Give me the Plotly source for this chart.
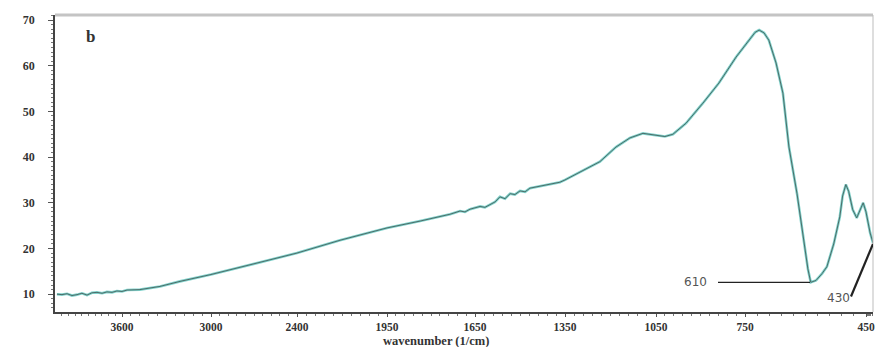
import numpy as np
import plotly.graph_objects as go

# ---- data ----
wavenumber = [4037, 4003, 3969, 3936, 3902, 3869, 3835, 3802, 3768, 3734, 3701, 3667, 3634, 3600, 3566,
              3479, 3344, 3209, 3000, 2728, 2400, 2185, 1950, 1837, 1735,
              1701, 1684, 1667, 1650, 1633, 1617, 1600, 1583, 1567, 1550, 1533, 1517, 1500, 1483, 1467,
              1433, 1400, 1367, 1350, 1235, 1182, 1136, 1093, 1053, 1020, 993, 949, 892, 838, 780,
              740, 725, 715, 703, 691, 673, 656, 641, 621, 606, 594, 587, 574, 559, 547, 530, 515,
              508, 500, 493, 483, 473, 465, 457, 450, 440, 433]
transmittance = [10.0, 9.9, 10.1, 9.7, 9.9, 10.2, 9.8, 10.3, 10.4, 10.2, 10.5, 10.4, 10.7, 10.6, 10.9,
                 11.0, 11.7, 12.8, 14.3, 16.5, 19.0, 21.8, 24.5, 26.0, 27.5,
                 28.2, 28.0, 28.6, 28.9, 29.2, 29.0, 29.6, 30.2, 31.3, 30.9, 32.0, 31.8, 32.6, 32.4, 33.2,
                 33.6, 34.0, 34.5, 35.0, 39.0, 42.2, 44.2, 45.2, 44.9, 44.5, 45.0, 47.4, 51.8, 56.2, 61.9,
                 65.6, 67.3, 67.8, 67.2, 65.6, 60.6, 54.0, 42.2, 32.0, 22.5, 15.5, 12.6, 13.0, 14.5, 16.0, 21.0, 26.9,
                 31.5, 34.0, 32.5, 28.5, 26.7, 28.5, 30.0, 28.0, 23.4, 21.2]

tick_labels = ["3600", "3000", "2400", "1950", "1650", "1350", "1050", "750", "450"]
tick_wn = [3600, 3000, 2400, 1950, 1650, 1350, 1050, 750, 450]

# piecewise axis scale (segment lengths of the original axis)
scale_wn = [4050] + tick_wn + [420]
scale_pos = [55, 122, 211, 297, 387, 475, 565, 656, 745, 866, 878.4]


def to_axis(w):
    w = np.asarray(w, dtype=float)
    return np.interp(-w, -np.asarray(scale_wn, float), scale_pos)


xd = to_axis(wavenumber)
tickpos = to_axis(tick_wn)

# minor ticks: 10 subdivisions per labelled interval
minor_pos = []
for a, b in zip(scale_pos[:-1], scale_pos[1:]):
    minor_pos += list(np.linspace(a, b, 11)[1:-1])
minor_pos = [p for p in minor_pos if 55 < p < 873]

fig = go.Figure()
fig.add_trace(go.Scatter(x=xd, y=transmittance, mode="lines",
                         line=dict(color="rgba(85,195,185,0.75)", width=2.6),
                         hoverinfo="skip", showlegend=False))
fig.add_trace(go.Scatter(x=xd, y=transmittance, mode="lines",
                         line=dict(color="#46605d", width=0.9),
                         showlegend=False))

serif = "Liberation Serif, Times New Roman, serif"

fig.update_layout(
    width=876, height=347,
    margin=dict(l=55, r=3, t=15, b=35),
    paper_bgcolor="white", plot_bgcolor="white",
    xaxis=dict(range=[55, 873], tickmode="array", tickvals=tickpos, ticktext=tick_labels,
               automargin=False,
               showgrid=False, zeroline=False, showline=True, linecolor="#444", linewidth=1.5,
               ticks="outside", ticklen=3, tickcolor="#555", tickwidth=1,
               minor=dict(tickmode="array", tickvals=minor_pos, ticks="outside", ticklen=2,
                          tickcolor="#777", showgrid=False),
               tickfont=dict(family=serif, size=11.5, color="#333", weight="bold")),
    yaxis=dict(range=[6.1, 71.1], tickvals=[10, 20, 30, 40, 50, 60, 70],
               automargin=False, ticklabelstandoff=11,
               showgrid=False, zeroline=False, showline=True, linecolor="#444", linewidth=1.5,
               ticks="outside", ticklen=5, tickcolor="#555",
               minor=dict(dtick=1, ticks="outside", ticklen=2.5, tickcolor="#777", showgrid=False),
               tickfont=dict(family=serif, size=12, color="#333", weight="bold")),
)

# axis title as annotation (near the bottom edge like the original)
fig.add_annotation(x=0.466, y=-0.099, xref="paper", yref="paper", yanchor="middle",
                   text="<b>wavenumber (1/cm)</b>", showarrow=False,
                   font=dict(family=serif, size=12.5, color="#333"))

# frame: light top line and thin right edge
fig.add_shape(type="line", xref="paper", yref="paper", x0=0, x1=1, y0=1, y1=1,
              line=dict(color="#c4c4c4", width=3))
fig.add_shape(type="line", xref="paper", yref="paper", x0=1, x1=1, y0=0, y1=1,
              line=dict(color="#bdbdbd", width=1))

# annotations
fig.add_annotation(x=90, y=66.5, xref="x", yref="y", text="b", showarrow=False,
                   font=dict(family=serif, size=17, color="#333", weight="bold"))
fig.add_shape(type="line", x0=718, x1=810, y0=12.6, y1=12.6, xref="x", yref="y",
              line=dict(color="#222", width=1.3))
fig.add_annotation(x=695, y=12.6, xref="x", yref="y", text="610", showarrow=False,
                   font=dict(family="DejaVu Sans, sans-serif", size=12, color="#555"))
fig.add_shape(type="line", x0=851, x1=873, y0=9.5, y1=21.0, xref="x", yref="y",
              line=dict(color="#222", width=2.2))
fig.add_annotation(x=838, y=9.2, xref="x", yref="y", text="430", showarrow=False,
                   font=dict(family="DejaVu Sans, sans-serif", size=12, color="#555"))

fig.write_html("out.html", config={"displayModeBar": False},
               post_script="document.body.style.margin='0';document.body.style.overflow='hidden';")
